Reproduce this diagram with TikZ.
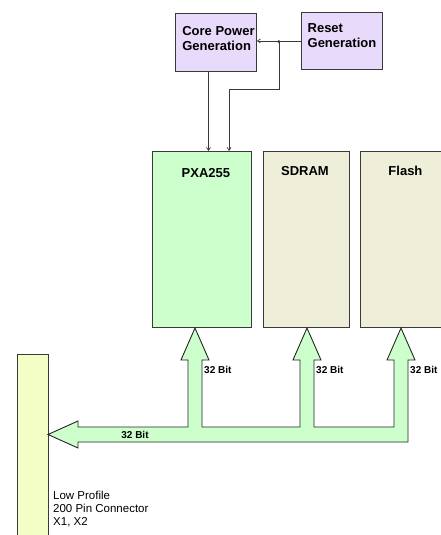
\documentclass[tikz,border=0pt]{standalone}
\usepackage{fontspec}
\setmainfont{Liberation Sans}
\usetikzlibrary{arrows.meta,calc}

\definecolor{pwrviolet}{HTML}{E8DAFA}
\definecolor{cpugreen}{HTML}{CCFFCC}
\definecolor{membeige}{HTML}{EEEED9}
\definecolor{connyellow}{HTML}{F3FEC6}
\definecolor{edgegray}{HTML}{3A3A3A}

\tikzset{
  blk/.style={draw=edgegray, line width=0.9pt, rectangle, inner sep=0pt, anchor=north west},
  ttl/.style={font=\fontsize{13}{15}\selectfont\bfseries, align=left, inner sep=0pt},
  bitlbl/.style={font=\fontsize{10}{12}\selectfont\bfseries, inner sep=0pt},
  sig/.style={draw=edgegray, line width=0.7pt, -{Straight Barb[length=3pt,width=4pt]}},
  bus/.style={draw=black!85, line width=0.9pt, fill=cpugreen, line join=miter}
}

\begin{document}
\begin{tikzpicture}[x=1pt,y=-1pt]
  \clip (0,0) rectangle (441,535);
  % power and reset
  \node[blk, fill=pwrviolet, minimum width=81pt, minimum height=58pt,
    label={[ttl,xshift=2.5pt,yshift=4pt]center:Core Power\\Generation}] (core) at (175,13) {};
  \node[blk, fill=pwrviolet, minimum width=81pt, minimum height=57pt,
    label={[ttl,yshift=5pt]center:Reset\\Generation}] (reset) at (301,12) {};
  % chips
  \node[blk, fill=cpugreen, minimum width=99pt, minimum height=176pt,
    label={[ttl,anchor=north,xshift=4pt,yshift=-17pt]north:PXA255}] (pxa) at (152,151) {};
  \node[blk, fill=membeige, minimum width=86pt, minimum height=176pt,
    label={[ttl,anchor=north,xshift=-1.5pt,yshift=-15pt]north:SDRAM}] (sdram) at (263,151) {};
  \node[blk, fill=membeige, minimum width=86pt, minimum height=176pt,
    label={[ttl,anchor=north,xshift=2pt,yshift=-15pt]north:Flash}] (flash) at (360,151) {};
  % connector
  \node[blk, fill=connyellow, minimum width=31pt, minimum height=190pt] (conn) at (17,354) {};
  \node[font=\fontsize{11.5}{13.3}\selectfont, align=left, inner sep=0pt, anchor=north west]
    (connlbl) at (53,490.5) {Low Profile\\200 Pin Connector\\X1, X2};

  % reset and power lines
  \coordinate (jn) at ($(reset.west)!0.5!(core.east)$);
  \coordinate (bend) at (229,89);
  \draw[sig] (reset.west) -- (reset.west -| core.east);
  \fill[edgegray] (jn) circle (1.7pt);
  \draw[sig] ([xshift=-7.5pt]core.south) -- ([xshift=-7.5pt]core.south |- pxa.north);
  \draw[sig] (jn) |- (bend) -- (bend |- pxa.north);

  % data bus
  \draw[bus] (48,434.5) -- (78,421) -- (78,427)
    foreach \c in {195,307,401} {
      -- (\c-7,427) -- (\c-7,360) -- (\c-14,360) -- (\c,328)
      -- (\c+14,360) -- (\c+7,360) -- (\c+7,427)
    }
    -- (408,442) -- (78,442) -- (78,448) -- cycle;
  \foreach \c/\n in {195/a,307/b,401/c}
    {
      \node[bitlbl, anchor=west] (bit\n) at (\c+9,370) {32 Bit};
    }
  \node[bitlbl] (bitd) at (135,434.5) {32 Bit};
\end{tikzpicture}
\end{document}
